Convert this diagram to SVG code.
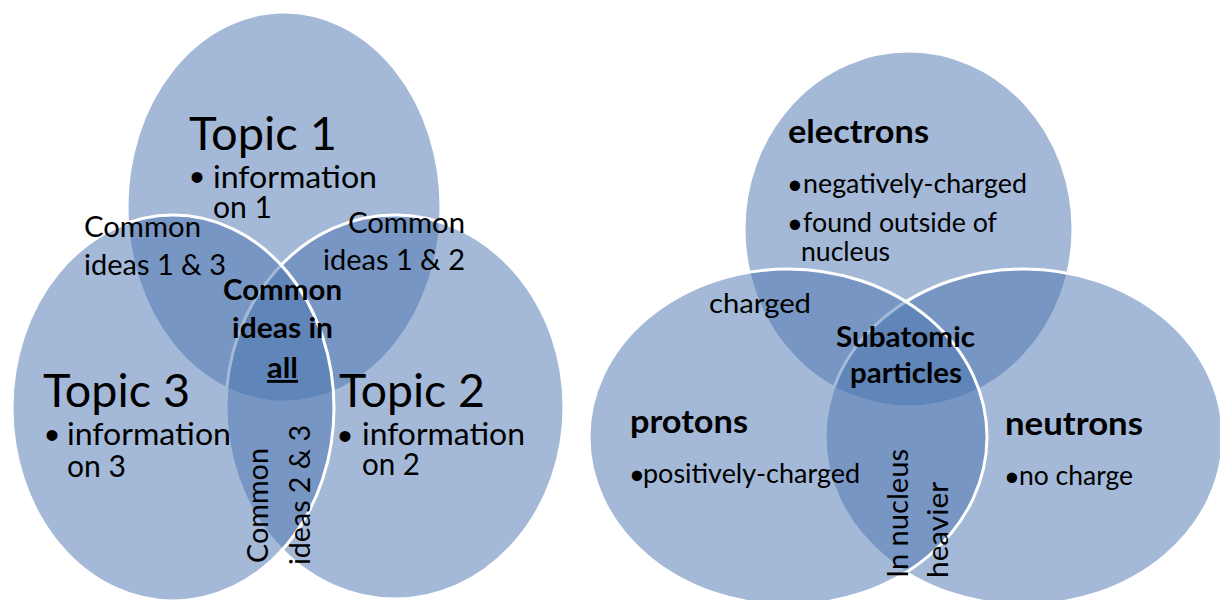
<svg xmlns="http://www.w3.org/2000/svg" width="1220" height="600" viewBox="0 0 1220 600">
  <style>
    .c { fill:#4A74B0; fill-opacity:0.5; stroke:#ffffff; stroke-width:3; }
    text { font-family: Lato, "Liberation Sans", sans-serif; fill:#000000; }
    .topic { font-size:46px; }
    .info { font-size:30px; }
    .lab { font-size:28px; }
    .bold { font-size:28px; font-weight:bold; }
    .head { font-size:32px; font-weight:bold; }
    .body { font-size:26px; }
    .bul { font-family:"Liberation Sans", sans-serif; text-anchor:middle; }
    .bl { font-size:40px; }
    .br { font-size:38px; }
  </style>
  <rect width="1220" height="600" fill="#ffffff"/>

  <!-- Left Venn -->
  <g id="topic1">
    <ellipse class="c" cx="284" cy="207" rx="157" ry="195"/>
    <text class="topic" x="189" y="150" textLength="148" lengthAdjust="spacingAndGlyphs">Topic 1</text>
    <text class="info"><tspan class="bul bl" x="197" y="191">•</tspan><tspan x="213" y="188" textLength="164" lengthAdjust="spacingAndGlyphs">information</tspan></text>
    <text class="info" x="213" y="218" textLength="59" lengthAdjust="spacingAndGlyphs">on 1</text>
  </g>
  <g id="topic2">
    <ellipse class="c" cx="395" cy="407" rx="169" ry="192"/>
    <text class="topic" x="339" y="407" textLength="146" lengthAdjust="spacingAndGlyphs">Topic 2</text>
    <text class="info"><tspan class="bul bl" x="345" y="450">•</tspan><tspan x="362" y="445" textLength="163" lengthAdjust="spacingAndGlyphs">information</tspan></text>
    <text class="info" x="362" y="475" textLength="58" lengthAdjust="spacingAndGlyphs">on 2</text>
  </g>
  <g id="topic3">
    <ellipse class="c" cx="173" cy="408" rx="161" ry="193"/>
    <text class="topic" x="43" y="407" textLength="147" lengthAdjust="spacingAndGlyphs">Topic 3</text>
    <text class="info"><tspan class="bul bl" x="52" y="449">•</tspan><tspan x="67" y="445" textLength="164" lengthAdjust="spacingAndGlyphs">information</tspan></text>
    <text class="info" x="67" y="477" textLength="59" lengthAdjust="spacingAndGlyphs">on 3</text>
  </g>
  <g id="common13">
    <text class="lab" x="84" y="237" textLength="117" lengthAdjust="spacingAndGlyphs">Common</text>
    <text class="lab" x="84" y="275" textLength="142" lengthAdjust="spacingAndGlyphs">ideas 1 &amp; 3</text>
  </g>
  <g id="common12">
    <text class="lab" x="348" y="233" textLength="117" lengthAdjust="spacingAndGlyphs">Common</text>
    <text class="lab" x="323" y="270" textLength="142" lengthAdjust="spacingAndGlyphs">ideas 1 &amp; 2</text>
  </g>
  <g id="common23">
    <text class="lab" transform="translate(268,563) rotate(-90)" textLength="115" lengthAdjust="spacingAndGlyphs">Common</text>
    <text class="lab" transform="translate(310,565) rotate(-90)" textLength="140" lengthAdjust="spacingAndGlyphs">ideas 2 &amp; 3</text>
  </g>
  <g id="commonAll">
    <text class="bold" x="223" y="300" textLength="119" lengthAdjust="spacingAndGlyphs">Common</text>
    <text class="bold" x="232" y="338" textLength="101" lengthAdjust="spacingAndGlyphs">ideas in</text>
    <text class="bold" x="267" y="378" textLength="31" lengthAdjust="spacingAndGlyphs" text-decoration="underline">all</text>
  </g>

  <!-- Right Venn -->
  <g id="electrons">
    <ellipse class="c" cx="908.5" cy="229" rx="164.5" ry="178"/>
    <text class="head" x="788" y="143" textLength="141" lengthAdjust="spacingAndGlyphs">electrons</text>
    <text class="body"><tspan class="bul br" x="795" y="199">•</tspan><tspan x="803" y="193" textLength="224" lengthAdjust="spacingAndGlyphs">negatively-charged</tspan></text>
    <text class="body"><tspan class="bul br" x="795" y="238">•</tspan><tspan x="803" y="232" textLength="194" lengthAdjust="spacingAndGlyphs">found outside of</tspan></text>
    <text class="body" x="801" y="261" textLength="89" lengthAdjust="spacingAndGlyphs">nucleus</text>
  </g>
  <g id="neutrons">
    <ellipse class="c" cx="1024" cy="437" rx="199" ry="168"/>
    <text class="head" x="1005" y="435" textLength="138" lengthAdjust="spacingAndGlyphs">neutrons</text>
    <text class="body"><tspan class="bul br" x="1012" y="491">•</tspan><tspan x="1019" y="485" textLength="114" lengthAdjust="spacingAndGlyphs">no charge</tspan></text>
  </g>
  <g id="protons">
    <ellipse class="c" cx="788" cy="437" rx="199" ry="168"/>
    <text class="head" x="630" y="433" textLength="118" lengthAdjust="spacingAndGlyphs">protons</text>
    <text class="body"><tspan class="bul br" x="637" y="489">•</tspan><tspan x="643" y="483" textLength="217" lengthAdjust="spacingAndGlyphs">positively-charged</tspan></text>
  </g>
  <g id="charged">
    <text class="body" x="709" y="313" textLength="102" lengthAdjust="spacingAndGlyphs">charged</text>
  </g>
  <g id="subatomic">
    <text class="bold" x="836" y="347" textLength="139" lengthAdjust="spacingAndGlyphs">Subatomic</text>
    <text class="bold" x="850" y="383" textLength="112" lengthAdjust="spacingAndGlyphs">particles</text>
  </g>
  <g id="nucleusHeavier">
    <text class="lab" transform="translate(908,578) rotate(-90)" textLength="129" lengthAdjust="spacingAndGlyphs">In nucleus</text>
    <text class="lab" transform="translate(948,578) rotate(-90)" textLength="96" lengthAdjust="spacingAndGlyphs">heavier</text>
  </g>
  <g id="connectors"></g>
</svg>
